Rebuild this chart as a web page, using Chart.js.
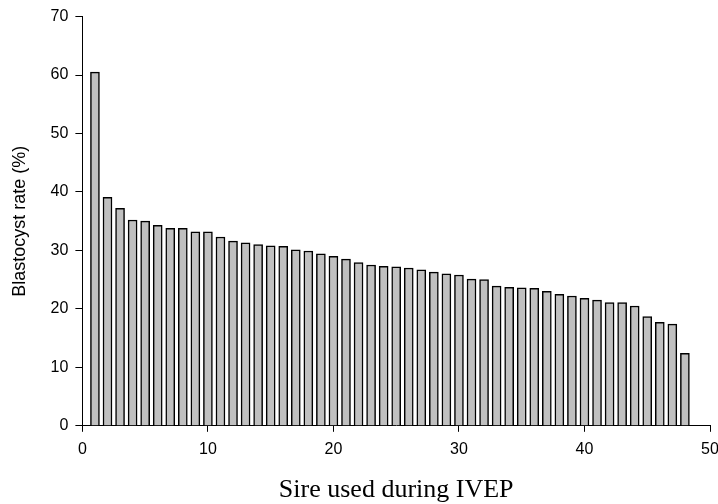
<!DOCTYPE html>
<html>
<head>
<meta charset="utf-8">
<script src="https://cdn.jsdelivr.net/npm/chart.js@4/dist/chart.umd.min.js"></script>
<style>
  html, body { margin: 0; padding: 0; background: #fff; }
  #wrap { width: 718px; height: 504px; }
</style>
</head>
<body>
<div id="wrap"><canvas id="blastChart"></canvas></div>
<script>
const sires = [1, 2, 3, 4, 5, 6, 7, 8, 9, 10, 11, 12, 13, 14, 15, 16,
  17, 18, 19, 20, 21, 22, 23, 24, 25, 26, 27, 28, 29, 30, 31, 32,
  33, 34, 35, 36, 37, 38, 39, 40, 41, 42, 43, 44, 45, 46, 47, 48];
const blastRate = [60.5, 39.1, 37.2, 35.2, 35.0, 34.3, 33.8, 33.8, 33.2, 33.2, 32.3, 31.6, 31.3, 31.0, 30.8, 30.7,
  30.1, 29.9, 29.4, 29.0, 28.5, 27.9, 27.5, 27.3, 27.2, 27.0, 26.7, 26.3, 26.0, 25.8, 25.1, 25.0,
  23.9, 23.7, 23.6, 23.5, 23.0, 22.5, 22.2, 21.8, 21.5, 21.1, 21.1, 20.5, 18.7, 17.7, 17.4, 12.4];
const xRange = [0, 50];
const yRange = [0, 70];

const points = sires.map((s, i) => ({ x: s, y: blastRate[i] }));

const ctx = document.getElementById('blastChart').getContext('2d');
const blastChart = new Chart(ctx, {
  type: 'bar',
  data: {
    datasets: [{
      data: points,
      backgroundColor: '#c0c0c0',
      borderColor: '#000000',
      borderWidth: 1.5,
      barThickness: 9
    }]
  },
  options: {
    responsive: true,
    maintainAspectRatio: false,
    animation: false,
    layout: {
      padding: { top: 16, right: 0, bottom: 1, left: 9 }
    },
    scales: {
      x: {
        type: 'linear',
        min: xRange[0],
        max: xRange[1],
        offset: false,
        // let the "50" label run up to the right edge like the original
        afterFit: (scale) => { scale.paddingRight = 8; },
        grid: {
          offset: false,
          drawOnChartArea: false,
          drawTicks: true,
          tickLength: 6,
          color: '#000'
        },
        border: { display: true, color: '#000', width: 1 },
        ticks: {
          stepSize: 10,
          color: '#000',
          padding: 8,
          maxRotation: 0,
          font: { family: 'Liberation Sans', size: 16 }
        },
        title: {
          display: true,
          text: 'Sire used during IVEP',
          color: '#000',
          padding: { top: 10, bottom: 0 },
          font: { family: 'Liberation Serif', size: 26, lineHeight: 1 }
        }
      },
      y: {
        min: yRange[0],
        max: yRange[1],
        grid: {
          drawOnChartArea: false,
          drawTicks: true,
          tickLength: 7,
          color: '#000'
        },
        border: { display: true, color: '#000', width: 1 },
        ticks: {
          stepSize: 10,
          color: '#000',
          padding: 7,
          font: { family: 'Liberation Sans', size: 16 }
        },
        title: {
          display: true,
          text: 'Blastocyst rate (%)',
          color: '#000',
          padding: { top: 0, bottom: 13 },
          font: { family: 'Liberation Sans', size: 18 }
        }
      }
    },
    plugins: {
      legend: { display: false },
      tooltip: { enabled: false }
    }
  }
});
</script>
</body>
</html>
